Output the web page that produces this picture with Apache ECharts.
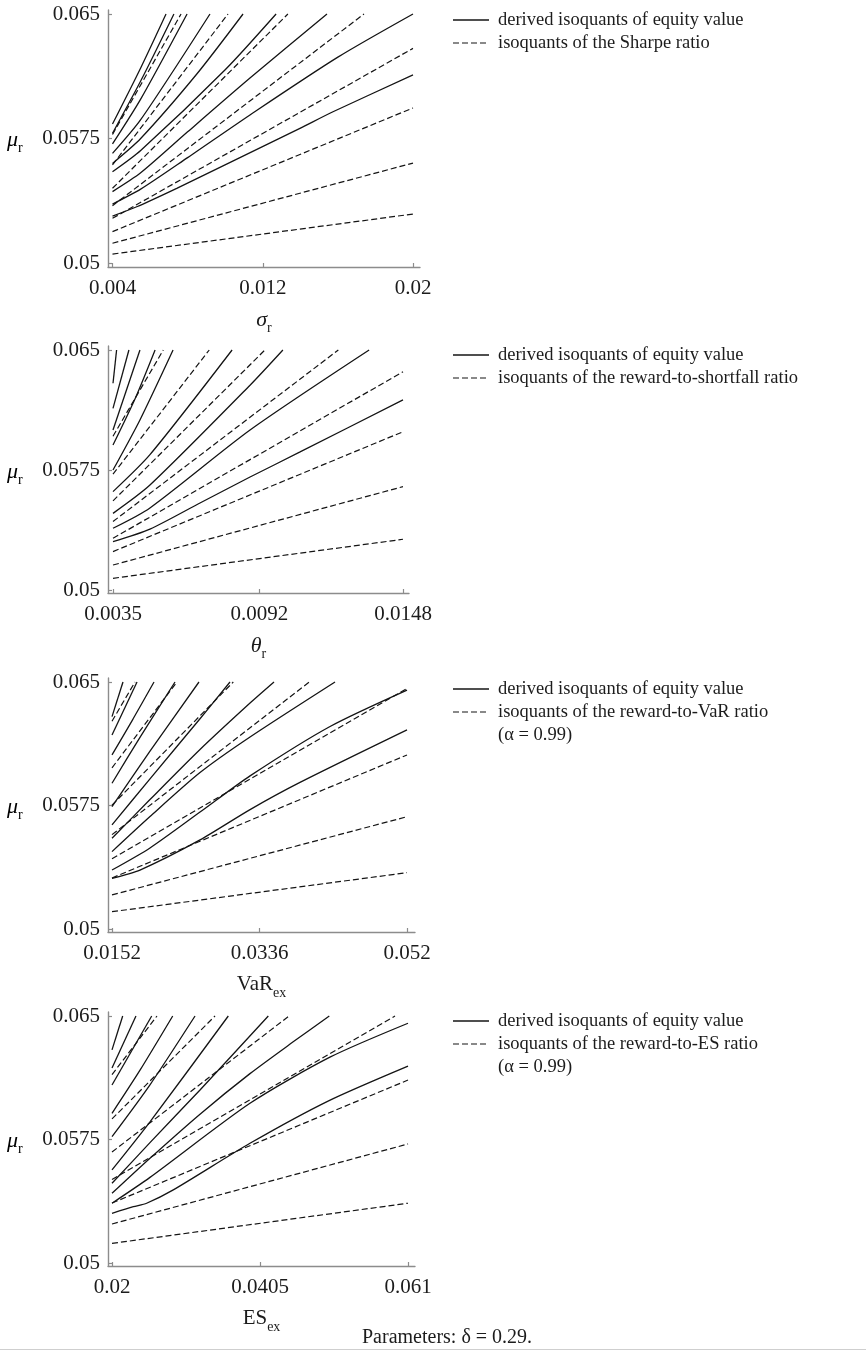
<!DOCTYPE html>
<html><head><meta charset="utf-8">
<script src="https://cdn.jsdelivr.net/npm/echarts@6/dist/echarts.min.js"></script>
<style>html,body{margin:0;padding:0;background:#fff}#c{width:866px;height:1352px}</style>
</head><body><div id="c"></div>
<script>
// ---------------- data ----------------
const muTicks = [0.05, 0.0575, 0.065];
const muTickLabels = ['0.05', '0.0575', '0.065'];

const sigmaTicks = [0.004, 0.012, 0.02];
const sigmaTickLabels = ['0.004', '0.012', '0.02'];
const thetaTicks = [0.0035, 0.0092, 0.0148];
const thetaTickLabels = ['0.0035', '0.0092', '0.0148'];
const varTicks = [0.0152, 0.0336, 0.052];
const varTickLabels = ['0.0152', '0.0336', '0.052'];
const esTicks = [0.02, 0.0405, 0.061];
const esTickLabels = ['0.02', '0.0405', '0.061'];

const equityName = 'derived isoquants of equity value';
const sharpeName = 'isoquants of the Sharpe ratio';
const shortfallName = 'isoquants of the reward-to-shortfall ratio';
const varName = 'isoquants of the reward-to-VaR ratio';
const esName = 'isoquants of the reward-to-ES ratio';
const alphaNote = '(α = 0.99)';
const paramNote = 'Parameters: δ = 0.29.';

// panel 1: sigma_r
const sharpeEquityLines = [
  [[0.004,0.05283],[0.00529,0.05339],[0.00742,0.0545],[0.01043,0.05615],[0.01398,0.05811],[0.01574,0.05911],[0.02,0.06133]],
  [[0.004,0.05355],[0.0055,0.05445],[0.008,0.05635],[0.01132,0.05892],[0.016,0.0624],[0.02,0.065]],
  [[0.004,0.0543],[0.0055,0.05543],[0.008,0.0579],[0.01132,0.06114],[0.01542,0.065]],
  [[0.004,0.0555],[0.0055,0.05678],[0.01,0.06164],[0.01271,0.065]],
  [[0.004,0.056],[0.0055,0.0575],[0.0085,0.0614],[0.01095,0.065]],
  [[0.004,0.0566],[0.0055,0.05863],[0.00919,0.065]],
  [[0.004,0.05717],[0.0055,0.05987],[0.00797,0.065]],
  [[0.004,0.05781],[0.0055,0.06096],[0.00727,0.065]],
  [[0.004,0.05837],[0.0055,0.06175],[0.00685,0.065]]
];
const sharpeRatioLines = [
  [[0.004,0.05054],[0.02,0.05295]],
  [[0.004,0.05119],[0.02,0.05602]],
  [[0.004,0.05189],[0.02,0.05934]],
  [[0.004,0.05269],[0.02,0.06293]],
  [[0.004,0.05345],[0.01739,0.065]],
  [[0.004,0.0545],[0.01334,0.065]],
  [[0.004,0.05591],[0.01015,0.065]],
  [[0.004,0.05774],[0.00765,0.065]]
];

// panel 2: theta_r
const shortfallEquityLines = [
  [[0.0035,0.05302],[0.00494,0.05381],[0.00689,0.05544],[0.00884,0.05706],[0.01079,0.05863],[0.0148,0.06188]],
  [[0.0035,0.05386],[0.00494,0.05513],[0.00884,0.06],[0.01348,0.065]],
  [[0.0035,0.05479],[0.00494,0.05656],[0.00884,0.0628],[0.01012,0.065]],
  [[0.0035,0.05615],[0.00494,0.05846],[0.00814,0.065]],
  [[0.0035,0.0575],[0.00455,0.06063],[0.00584,0.065]],
  [[0.0035,0.05906],[0.00436,0.06195],[0.00514,0.065]],
  [[0.0035,0.06],[0.00455,0.065]],
  [[0.0035,0.06135],[0.00412,0.065]],
  [[0.0035,0.06292],[0.00364,0.065]]
];
const shortfallRatioLines = [
  [[0.0035,0.05073],[0.0148,0.05317]],
  [[0.0035,0.05156],[0.0148,0.05646]],
  [[0.0035,0.0524],[0.0148,0.05989]],
  [[0.0035,0.05323],[0.0148,0.06364]],
  [[0.0035,0.05428],[0.01228,0.065]],
  [[0.0035,0.05557],[0.00942,0.065]],
  [[0.0035,0.05724],[0.00725,0.065]],
  [[0.0035,0.05961],[0.00546,0.065]]
];

// panel 3: VaR_ex
const varEquityLines = [
  [[0.0152,0.05308],[0.01869,0.05358],[0.02618,0.05541],[0.03242,0.05725],[0.03865,0.0589],[0.052,0.06209]],
  [[0.0152,0.05358],[0.01994,0.05492],[0.02618,0.0571],[0.03242,0.0593],[0.0424,0.0623],[0.052,0.06451]],
  [[0.0152,0.0547],[0.01994,0.05683],[0.02618,0.0595],[0.03242,0.06166],[0.04302,0.065]],
  [[0.0152,0.05551],[0.01994,0.05786],[0.02618,0.0609],[0.03242,0.06372],[0.03541,0.065]],
  [[0.0152,0.05632],[0.01994,0.05912],[0.02618,0.06277],[0.02992,0.065]],
  [[0.0152,0.05743],[0.01994,0.0608],[0.02605,0.065]],
  [[0.0152,0.05885],[0.01869,0.06164],[0.02306,0.065]],
  [[0.0152,0.06057],[0.01782,0.06275],[0.02044,0.065]],
  [[0.0152,0.06178],[0.01832,0.065]],
  [[0.0152,0.0629],[0.01657,0.065]]
];
const varRatioLines = [
  [[0.0152,0.05105],[0.052,0.05342]],
  [[0.0152,0.05207],[0.052,0.05682]],
  [[0.0152,0.0531],[0.052,0.06057]],
  [[0.0152,0.05427],[0.052,0.0646]],
  [[0.0152,0.05573],[0.03981,0.065]],
  [[0.0152,0.05752],[0.03033,0.065]],
  [[0.0152,0.05979],[0.0233,0.065]],
  [[0.0152,0.06262],[0.01807,0.065]]
];

// panel 4: ES_ex
const esEquityLines = [
  [[0.02,0.05302],[0.02296,0.05342],[0.0248,0.05363],[0.02849,0.05444],[0.03911,0.05727],[0.05,0.05985],[0.061,0.06196]],
  [[0.02,0.05363],[0.02526,0.0552],[0.03911,0.0597],[0.05019,0.0625],[0.061,0.06456]],
  [[0.02,0.05423],[0.02526,0.05636],[0.03219,0.05904],[0.03911,0.0615],[0.045,0.0634],[0.0501,0.065]],
  [[0.02,0.05484],[0.02526,0.05731],[0.03219,0.06051],[0.04165,0.065]],
  [[0.02,0.05565],[0.02526,0.05857],[0.03611,0.065]],
  [[0.02,0.05767],[0.02526,0.06082],[0.0315,0.065]],
  [[0.02,0.05909],[0.02388,0.06171],[0.02841,0.065]],
  [[0.02,0.06081],[0.0255,0.065]],
  [[0.02,0.06184],[0.02332,0.065]],
  [[0.02,0.06294],[0.02148,0.065]]
];
const esRatioLines = [
  [[0.02,0.05119],[0.061,0.05363]],
  [[0.02,0.05237],[0.061,0.05723]],
  [[0.02,0.05364],[0.061,0.06111]],
  [[0.02,0.05507],[0.0592,0.065]],
  [[0.02,0.05674],[0.04452,0.065]],
  [[0.02,0.05875],[0.03427,0.065]],
  [[0.02,0.06144],[0.02623,0.065]]
];

// ---------------- layout / style ----------------
const FONT = '"Liberation Serif", "Times New Roman", serif';
const TXT = '#1c1c1c';
const AXIS = '#8c8c8c';
const LINE = '#141414';

const panels = [
  { xTicks: sigmaTicks, xLabels: sigmaTickLabels, solid: sharpeEquityLines, dashed: sharpeRatioLines,
    dashedName: sharpeName, xName: '{i|σ}{s|r}', note: false,
    g: {axisL:108, axisR:420, tickL:112.5, tickR:413, axisT:10, axisB:267, tickT:14, tickB:263}, legendY: 20 },
  { xTicks: thetaTicks, xLabels: thetaTickLabels, solid: shortfallEquityLines, dashed: shortfallRatioLines,
    dashedName: shortfallName, xName: '{i|θ}{s|r}', note: false,
    g: {axisL:108, axisR:409, tickL:113, tickR:403, axisT:346, axisB:593, tickT:350, tickB:590}, legendY: 355 },
  { xTicks: varTicks, xLabels: varTickLabels, solid: varEquityLines, dashed: varRatioLines,
    dashedName: varName, xName: '{n|VaR}{s|ex}', note: true,
    g: {axisL:108, axisR:415, tickL:112, tickR:407, axisT:678, axisB:932, tickT:682, tickB:929}, legendY: 689 },
  { xTicks: esTicks, xLabels: esTickLabels, solid: esEquityLines, dashed: esRatioLines,
    dashedName: esName, xName: '{n|ES}{s|ex}', note: true,
    g: {axisL:108, axisR:415, tickL:112, tickR:408, axisT:1012, axisB:1266, tickT:1016, tickB:1263}, legendY: 1021 }
];

const richName = {
  i: { fontFamily: FONT, fontStyle: 'italic', fontSize: 22, color: TXT, lineHeight: 26, verticalAlign: 'top' },
  n: { fontFamily: FONT, fontSize: 21, color: TXT, lineHeight: 26, verticalAlign: 'top' },
  s: { fontFamily: FONT, fontSize: 14, color: TXT, lineHeight: 12, verticalAlign: 'bottom' }
};

function labelFor(ticks, labels) {
  return function (v) {
    let best = 0;
    for (let k = 1; k < ticks.length; k++) if (Math.abs(ticks[k] - v) < Math.abs(ticks[best] - v)) best = k;
    return labels[best];
  };
}

const grids = [], xAxes = [], yAxes = [], series = [], graphics = [];

panels.forEach((p, i) => {
  const g = p.g;
  const x0 = p.xTicks[0], x1 = p.xTicks[p.xTicks.length - 1];
  const xs = (x1 - x0) / (g.tickR - g.tickL);
  const y0 = muTicks[0], y1 = muTicks[muTicks.length - 1];
  const ys = (y1 - y0) / (g.tickB - g.tickT);
  grids.push({ left: g.axisL, top: g.axisT, width: g.axisR - g.axisL, height: g.axisB - g.axisT,
               containLabel: false, outerBoundsMode: 'none' });
  xAxes.push({
    type: 'value', gridIndex: i,
    min: x0 - (g.tickL - g.axisL) * xs, max: x1 + (g.axisR - g.tickR) * xs,
    axisLine: { show: true, onZero: false, lineStyle: { color: AXIS, width: 1.4 } },
    axisTick: { show: true, inside: true, length: 4, customValues: p.xTicks, lineStyle: { color: AXIS, width: 1.2 } },
    axisLabel: { customValues: p.xTicks, formatter: labelFor(p.xTicks, p.xLabels), margin: 11,
                 fontFamily: FONT, fontSize: 21, color: TXT, showMinLabel: true, showMaxLabel: true },
    splitLine: { show: false },
    name: p.xName, nameLocation: 'middle', nameGap: 42,
    nameTextStyle: { rich: richName }
  });
  yAxes.push({
    type: 'value', gridIndex: i,
    min: y0 - (g.axisB - g.tickB) * ys, max: y1 + (g.tickT - g.axisT) * ys,
    axisLine: { show: true, onZero: false, lineStyle: { color: AXIS, width: 1.4 } },
    axisTick: { show: true, inside: true, length: 4, customValues: muTicks, lineStyle: { color: AXIS, width: 1.2 } },
    axisLabel: { customValues: muTicks, formatter: labelFor(muTicks, muTickLabels), margin: 8,
                 fontFamily: FONT, fontSize: 21, color: TXT, showMinLabel: true, showMaxLabel: true },
    splitLine: { show: false }
  });
  p.solid.forEach(line => series.push({
    type: 'line', name: equityName, xAxisIndex: i, yAxisIndex: i, data: line,
    symbol: 'none', smooth: 0.25, silent: true, animation: false,
    lineStyle: { color: LINE, width: 1.3, type: 'solid' }
  }));
  p.dashed.forEach(line => series.push({
    type: 'line', name: p.dashedName, xAxisIndex: i, yAxisIndex: i, data: line,
    symbol: 'none', silent: true, animation: false,
    lineStyle: { color: LINE, width: 1.2, type: [6, 3] }
  }));
  // legend (drawn as graphic: key line + label)
  const ly = p.legendY;
  graphics.push({ type: 'line', silent: true, shape: { x1: 453, y1: ly, x2: 489, y2: ly },
    style: { stroke: LINE, lineWidth: 1.3 } });
  graphics.push({ type: 'line', silent: true, shape: { x1: 453, y1: ly + 23, x2: 489, y2: ly + 23 },
    style: { stroke: LINE, lineWidth: 1.2, lineDash: [6, 3] } });
  graphics.push({ type: 'text', x: 498, y: ly, silent: true,
    style: { text: equityName, fontFamily: FONT, fontSize: 18.5, fill: TXT, verticalAlign: 'middle' } });
  graphics.push({ type: 'text', x: 498, y: ly + 23, silent: true,
    style: { text: p.dashedName, fontFamily: FONT, fontSize: 18.5, fill: TXT, verticalAlign: 'middle' } });
  if (p.note) {
    graphics.push({ type: 'text', x: 498, y: ly + 46, silent: true,
      style: { text: alphaNote, fontFamily: FONT, fontSize: 18.5, fill: TXT, verticalAlign: 'middle' } });
  }
  // mu_r label at the middle tick
  const midY = g.tickT + (y1 - muTicks[1]) / ys;
  graphics.push({ type: 'text', left: 7, top: midY - 9, silent: true,
    style: { text: '{i|μ}{s|r}', rich: richName } });
});

graphics.push({ type: 'text', x: 362, y: 1338, silent: true,
  style: { text: paramNote, fontFamily: FONT, fontSize: 20, fill: TXT, verticalAlign: 'middle' } });
graphics.push({ type: 'line', silent: true, shape: { x1: 0, y1: 1349.5, x2: 866, y2: 1349.5 },
  style: { stroke: '#cfcfcf', lineWidth: 1 } });

const chart = echarts.init(document.getElementById('c'), null, { renderer: 'canvas' });
chart.setOption({
  backgroundColor: '#ffffff',
  animation: false,
  grid: grids, xAxis: xAxes, yAxis: yAxes, series: series,
  graphic: graphics
});
</script></body></html>
